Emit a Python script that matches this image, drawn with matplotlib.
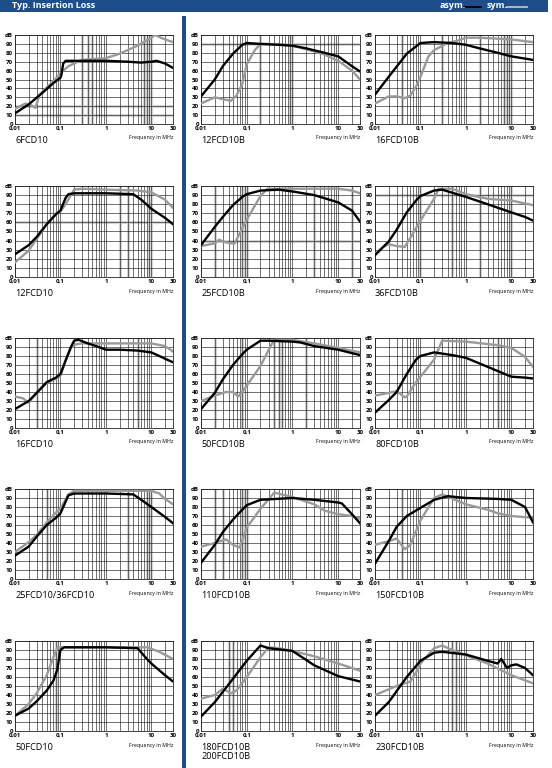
import matplotlib
matplotlib.use("Agg")
import matplotlib.pyplot as plt
from matplotlib.patches import Rectangle
from matplotlib.lines import Line2D

plt.rcParams['font.family'] = ['Open Sans', 'DejaVu Sans']

W, H = 552, 768
BLUE = '#1d4e89'
GREY = '#9a9a9a'
BAND = '#d4d4d4'

names = ["6FCD10", "12FCD10B", "16FCD10B",
         "12FCD10", "25FCD10B", "36FCD10B",
         "16FCD10", "50FCD10B", "80FCD10B",
         "25FCD10/36FCD10", "110FCD10B", "150FCD10B",
         "50FCD10", "180FCD10B\n200FCD10B", "230FCD10B"]

# 6FCD10
f1a = [0.01, 0.02, 0.04, 0.07, 0.1, 0.105, 0.115, 0.13, 0.2, 1, 3, 6, 10, 13, 20, 30]
d1a = [12, 22, 35, 46, 52, 55, 68, 71, 71, 71, 70, 69, 70, 71, 68, 63]
f1s = [0.01, 0.017, 0.023, 0.028, 0.035, 0.05, 0.07, 0.1, 0.15, 0.3, 1, 2, 5, 10, 12, 20, 30]
d1s = [17, 23, 21, 18, 33, 41, 48, 57, 65, 72, 74, 79, 88, 97, 100, 95, 92]
# 12FCD10B
f2a = [0.01, 0.02, 0.03, 0.05, 0.08, 0.1, 0.2, 0.5, 1, 2, 5, 10, 20, 30]
d2a = [31, 50, 65, 79, 89, 91, 90, 89, 88, 85, 80, 76, 65, 59]
f2s = [0.01, 0.02, 0.03, 0.045, 0.06, 0.08, 0.1, 0.15, 0.2, 0.3, 1, 2, 5, 10, 20, 30]
d2s = [23, 30, 28, 26, 32, 45, 67, 83, 90, 90, 88, 84, 78, 71, 60, 50]
# 16FCD10B
f3a = [0.01, 0.02, 0.05, 0.1, 0.2, 0.5, 1, 2, 5, 10, 30]
d3a = [33, 53, 79, 91, 92, 91, 89, 85, 80, 76, 72]
f3s = [0.01, 0.02, 0.03, 0.045, 0.06, 0.08, 0.1, 0.15, 0.2, 0.4, 0.7, 1, 2, 10, 30]
d3s = [23, 31, 31, 29, 32, 42, 53, 76, 83, 91, 94, 97, 97, 95, 92]
# 12FCD10
f4a = [0.01, 0.02, 0.03, 0.05, 0.08, 0.1, 0.13, 0.15, 0.2, 1, 4, 6, 10, 20, 30]
d4a = [25, 35, 44, 58, 69, 73, 87, 91, 92, 92, 91, 85, 75, 65, 58]
f4s = [0.01, 0.02, 0.03, 0.05, 0.08, 0.1, 0.13, 0.2, 0.3, 1, 5, 10, 20, 30]
d4s = [16, 29, 42, 58, 70, 72, 80, 96, 97, 96, 95, 93, 85, 76]
# 25FCD10B
f5a = [0.01, 0.02, 0.03, 0.05, 0.08, 0.1, 0.2, 0.5, 1, 3, 10, 20, 30]
d5a = [35, 55, 66, 79, 88, 91, 95, 96, 94, 90, 82, 73, 61]
f5s = [0.01, 0.02, 0.025, 0.03, 0.045, 0.055, 0.07, 0.1, 0.2, 0.28, 1, 10, 20, 30]
d5s = [34, 37, 41, 39, 37, 37, 48, 63, 89, 97, 97, 97, 95, 92]
# 36FCD10B
f6a = [0.01, 0.02, 0.03, 0.05, 0.08, 0.1, 0.2, 0.3, 1, 3, 10, 20, 30]
d6a = [24, 39, 52, 71, 84, 89, 95, 96, 88, 80, 71, 66, 62]
f6s = [0.01, 0.015, 0.02, 0.03, 0.045, 0.06, 0.1, 0.2, 0.25, 0.5, 1, 3, 10, 30]
d6s = [25, 33, 36, 34, 33, 43, 62, 86, 97, 97, 91, 86, 84, 79]
# 16FCD10
f7a = [0.01, 0.02, 0.03, 0.05, 0.08, 0.1, 0.13, 0.17, 0.2, 0.25, 0.4, 0.7, 1, 2, 5, 10, 15, 20, 30]
d7a = [21, 30, 39, 51, 56, 60, 75, 90, 97, 98, 94, 90, 87, 87, 86, 84, 80, 77, 73]
f7s = [0.01, 0.015, 0.02, 0.03, 0.05, 0.08, 0.1, 0.13, 0.17, 0.22, 0.3, 1, 10, 20, 30]
d7s = [35, 33, 28, 39, 50, 55, 58, 75, 89, 93, 94, 94, 94, 91, 85]
# 50FCD10B
f8a = [0.01, 0.02, 0.03, 0.05, 0.08, 0.1, 0.2, 0.3, 1, 1.5, 3, 10, 30]
d8a = [21, 39, 54, 70, 82, 87, 97, 97, 96, 95, 91, 87, 81]
f8s = [0.01, 0.02, 0.035, 0.05, 0.065, 0.08, 0.1, 0.2, 0.35, 0.4, 1, 3, 10, 30]
d8s = [30, 36, 40, 40, 35, 40, 47, 69, 93, 98, 98, 94, 89, 84]
# 80FCD10B
f9a = [0.01, 0.02, 0.03, 0.05, 0.08, 0.1, 0.2, 0.5, 1, 3, 10, 20, 30]
d9a = [17, 31, 40, 60, 76, 80, 84, 81, 78, 68, 57, 56, 55]
f9s = [0.01, 0.02, 0.03, 0.045, 0.05, 0.08, 0.1, 0.2, 0.3, 1, 5, 10, 20, 30]
d9s = [36, 39, 41, 34, 35, 51, 57, 76, 97, 96, 92, 89, 79, 68]
# 25FCD10/36FCD10
f10a = [0.01, 0.02, 0.03, 0.05, 0.08, 0.1, 0.15, 0.2, 1, 4, 6, 10, 20, 30]
d10a = [26, 36, 47, 60, 68, 73, 93, 95, 95, 94, 88, 80, 69, 62]
f10s = [0.01, 0.02, 0.03, 0.05, 0.08, 0.1, 0.15, 0.2, 1, 10, 15, 20, 30]
d10s = [30, 41, 49, 63, 74, 78, 94, 98, 98, 98, 95, 89, 83]
# 110FCD10B
f11a = [0.01, 0.02, 0.03, 0.05, 0.08, 0.1, 0.2, 1, 3, 10, 12, 20, 30]
d11a = [18, 38, 52, 66, 77, 82, 88, 90, 88, 85, 84, 72, 62]
f11s = [0.01, 0.02, 0.035, 0.05, 0.07, 0.1, 0.2, 0.4, 1, 3, 5, 10, 20, 30]
d11s = [36, 40, 44, 38, 35, 57, 78, 96, 91, 83, 76, 72, 70, 67]
# 150FCD10B
f12a = [0.01, 0.02, 0.03, 0.05, 0.1, 0.2, 0.4, 1, 5, 10, 20, 30]
d12a = [17, 42, 58, 70, 79, 88, 92, 90, 89, 88, 80, 63]
f12s = [0.01, 0.02, 0.03, 0.045, 0.06, 0.1, 0.2, 0.3, 1, 3, 5, 10, 30]
d12s = [38, 42, 45, 33, 38, 65, 90, 94, 83, 77, 73, 70, 68]
# 50FCD10
f13a = [0.01, 0.02, 0.03, 0.05, 0.07, 0.085, 0.1, 0.12, 0.2, 1, 5, 8, 10, 20, 30]
d13a = [17, 25, 33, 45, 56, 68, 90, 93, 93, 93, 92, 80, 75, 62, 55]
f13s = [0.01, 0.02, 0.03, 0.05, 0.07, 0.085, 0.1, 1, 8, 15, 30]
d13s = [17, 30, 42, 62, 82, 92, 93, 93, 93, 88, 80]
# 180FCD10B / 200FCD10B
f14a = [0.01, 0.02, 0.05, 0.1, 0.15, 0.2, 0.3, 1, 3, 10, 30]
d14a = [16, 32, 58, 78, 88, 95, 92, 89, 73, 61, 55]
f14s = [0.01, 0.02, 0.03, 0.045, 0.06, 0.1, 0.2, 0.3, 0.5, 1, 3, 10, 30]
d14s = [36, 40, 47, 42, 45, 60, 82, 93, 92, 89, 83, 75, 67]
# 230FCD10B
f15a = [0.01, 0.02, 0.05, 0.1, 0.2, 0.3, 1, 3, 5, 6, 7, 8, 10, 13, 20, 30]
d15a = [17, 32, 60, 78, 87, 88, 85, 78, 75, 80, 75, 70, 73, 74, 70, 62]
f15s = [0.01, 0.03, 0.06, 0.08, 0.1, 0.2, 0.3, 0.5, 1, 3, 10, 30]
d15s = [40, 50, 55, 65, 75, 92, 95, 90, 84, 75, 62, 53]

asym_f = [f1a, f2a, f3a, f4a, f5a, f6a, f7a, f8a, f9a, f10a, f11a, f12a, f13a, f14a, f15a]
asym_d = [d1a, d2a, d3a, d4a, d5a, d6a, d7a, d8a, d9a, d10a, d11a, d12a, d13a, d14a, d15a]
sym_f = [f1s, f2s, f3s, f4s, f5s, f6s, f7s, f8s, f9s, f10s, f11s, f12s, f13s, f14s, f15s]
sym_d = [d1s, d2s, d3s, d4s, d5s, d6s, d7s, d8s, d9s, d10s, d11s, d12s, d13s, d14s, d15s]

# light grey bands of the scanned grid
vbands = [[0.3, 0.4, 0.5, 7, 8, 9, 10], [0.2, 0.9, 1.0], [0.04, 0.3, 2, 7, 8, 9, 10],
          [2, 3, 9, 10], [0.02, 0.08, 0.09, 0.1, 3, 20], [0.1, 0.5, 2, 10],
          [0.03, 5], [0.02, 0.08, 0.4, 0.5, 0.6, 2], [5],
          [0.05, 3, 8, 9, 10], [0.02, 0.03, 0.08, 0.09, 0.1], [0.04],
          [0.08], [0.04, 0.05], [0.5, 0.6]]
hbands = [[10, 20], [90], [], [60], [40], [90], [], [], [], [], [], [], [], [], []]

xmajor = [0.01, 0.1, 1, 10, 30]
xlabels = ["0,01", "0,1", "1", "10", "30"]
xminor = [k * 10.0 ** e for e in (-2, -1, 0, 1) for k in range(2, 10) if k * 10.0 ** e <= 30]
yticks = list(range(0, 101, 10))
ylabels = [str(v) for v in range(0, 91, 10)] + ["dB"]

cols = [(15, 173), (201, 360), (375, 533)]
rows = [(35, 124), (186, 277), (338, 428), (489, 579), (641, 731)]

fig = plt.figure(figsize=(W / 100, H / 100), dpi=100)

# header bar + separator
fig.add_artist(Rectangle((0, 1 - 12 / H), 548 / W, 12 / H, transform=fig.transFigure,
                         facecolor=BLUE, edgecolor='none'))
fig.add_artist(Rectangle((182 / W, 0), 4 / W, 1 - 16 / H, transform=fig.transFigure,
                         facecolor=BLUE, edgecolor='none'))
fig.text(12 / W, 1 - 6 / H, "Typ. Insertion Loss", color='white', fontsize=6.5,
         fontweight='bold', va='center', ha='left')
fig.text(440 / W, 1 - 6 / H, "asym.", color='white', fontsize=6.5, fontweight='bold',
         va='center', ha='left')
fig.add_artist(Line2D([464 / W, 481 / W], [1 - 6.5 / H] * 2, color='black', lw=1.3,
                      transform=fig.transFigure))
fig.text(487 / W, 1 - 6 / H, "sym.", color='white', fontsize=6.5, fontweight='bold',
         va='center', ha='left')
fig.add_artist(Line2D([507 / W, 527 / W], [1 - 6.5 / H] * 2, color='#c0c0c0', lw=1.3,
                      transform=fig.transFigure))

for i in range(15):
    r, c = divmod(i, 3)
    x0, x1 = cols[c]
    y0, y1 = rows[r]
    ax = fig.add_axes([x0 / W, 1 - y1 / H, (x1 - x0) / W, (y1 - y0) / H])
    ax.set_xscale('log')
    ax.set_xlim(0.01, 30)
    ax.set_ylim(0, 100)

    for xb in vbands[i]:
        ax.axvline(xb, color=BAND, lw=2.2, zorder=0.5)
    for yb in hbands[i]:
        ax.axhline(yb, color=BAND, lw=2.2, zorder=0.5)

    ax.set_xticks(xmajor)
    ax.set_xticklabels(xlabels)
    ax.set_xticks(xminor, minor=True)
    ax.set_yticks(yticks)
    ax.set_yticklabels(ylabels)
    ax.tick_params(which='both', length=0, pad=1.5, labelsize=4.4)
    for lab in ax.get_xticklabels() + ax.get_yticklabels():
        lab.set_fontweight('bold')
    ax.grid(True, which='both', axis='x', color='#222222', lw=0.45, zorder=1)
    ax.grid(True, which='major', axis='y', color='#222222', lw=0.45, zorder=1)
    ax.set_axisbelow(False)
    for s in ax.spines.values():
        s.set_linewidth(0.6)
        s.set_color('#222222')

    ax.plot(sym_f[i], sym_d[i], color=GREY, lw=1.7, zorder=3, solid_joinstyle='round')
    ax.plot(asym_f[i], asym_d[i], color='black', lw=1.7, zorder=4, solid_joinstyle='round')

    fig.text(x0 / W, 1 - (y1 + 12) / H, names[i], fontsize=6.6, ha='left', va='top',
             linespacing=1.0)
    fig.text(x1 / W, 1 - (y1 + 14) / H, "Frequency in MHz", fontsize=3.8, ha='right',
             va='center')

fig.savefig("out.png", dpi=100)
